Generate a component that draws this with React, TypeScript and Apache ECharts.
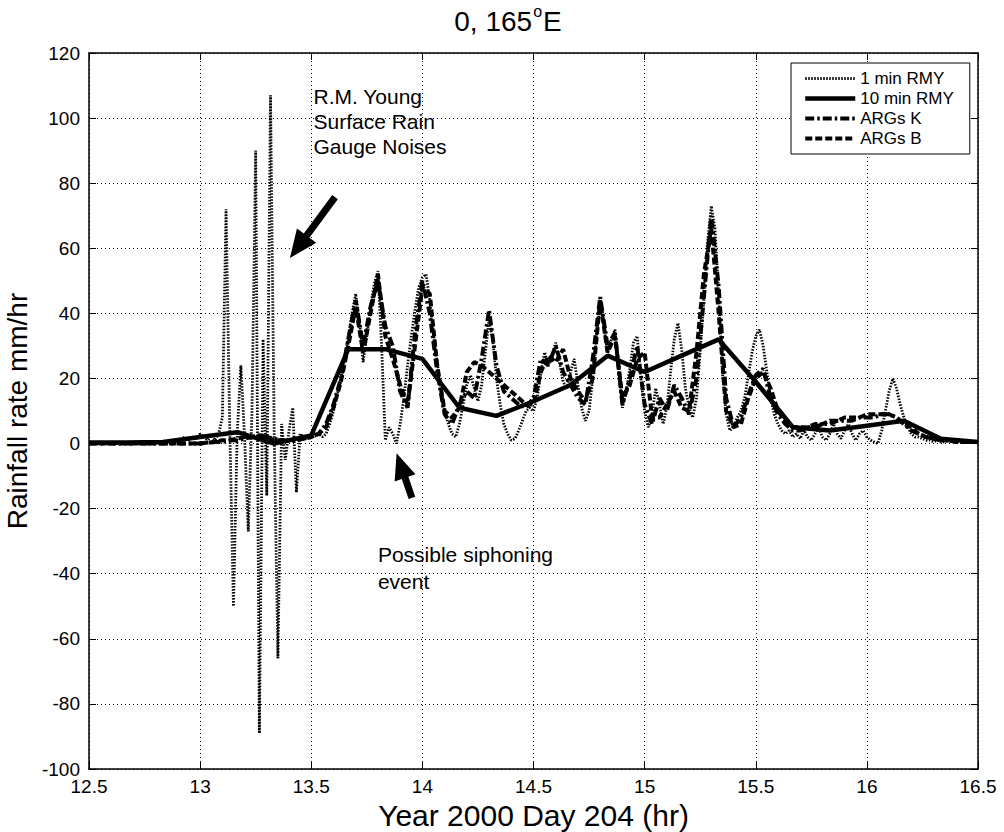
import React, { useEffect, useRef } from "react";
import * as echarts from "echarts";

// 1-minute R.M. Young gauge, one value per minute from 12.5 h
const rmy1Values = [
  0, 0, 0, 0, 0, 0, 0, 0, 0, 0,
  0, 0, 0, 0, 0, 0, 0, 0, 0, 0,
  0, 0.5, 1, 0.5, 1, 1.5, 2, 1, 2, 1.5,
  3, 2, 1, 2.5, 1, 3,
  8, 72, 5, -50, 3, 24, 2, -27, 10, 90, -89, 32, -16, 107, 3, -66, 6, -5, 4, 11, -15, 3, 2, 2, 3,
  3, 3, 2, 3, 6, 10, 15, 20, 26, 33,
  40, 46, 38, 25, 33, 42, 49, 53, 30, 1,
  5, 3, 0, 6, 14, 24, 33, 41, 48, 51,
  52, 44, 34, 25, 17, 10, 6, 3, 2, 6,
  12, 18, 21, 17, 13, 18, 28, 38, 32, 20,
  12, 6, 3, 1, 1.5, 4, 7, 10, 11, 10,
  14, 22, 28, 24, 27, 31, 25, 19, 17, 22,
  26, 18, 11, 7, 10, 20, 33, 43, 36, 28,
  32, 35, 22, 11, 16, 23, 31, 33, 20, 10,
  5, 9, 17, 12, 6, 11, 22, 32, 37, 29,
  17, 11, 8, 14, 28, 45, 62, 73, 66, 45,
  22, 9, 4, 5, 8, 10, 14, 21, 28, 33,
  35, 30, 22, 14, 9, 6, 4, 3, 4, 2,
  3, 1.5, 4, 2, 1, 3, 5, 2, 1, 3,
  6, 3, 1.5, 4, 6, 3, 1, 3, 4, 2,
  1, 0.5, 0, 4, 10, 16, 20, 17, 12, 8,
  5, 3, 2, 2, 1.5, 1, 1, 0.5, 1, 0.5,
  0.5, 1, 0.5, 0.5, 0.3, 0.5, 0.3, 0.3, 0.3, 0.3,
];

// 10-minute R.M. Young, one value per 10 minutes from 12.5 h
const rmy10Values = [
  0.3, 0.3, 0.5, 2, 3.5, 0, 2.5, 29, 29, 26, 11, 8.5, 13,
  18, 27, 22, 27, 32, 19, 5, 4, 5.5, 7, 1.5, 0.5,
];

// ARG gauges, one value per 2 minutes from 12.5 h
const argsKValues = [
  0, 0, 0, 0, 0, 0, 0, 0, 0, 0,
  0, 0, 0, 0, 0, 0, 0.3, 0.5, 0.5, 1,
  1, 1.5, 2, 2.5, 2, 1.5, 1, 0.8, 1, 1.5,
  2, 3, 6, 12, 20, 32, 44, 30, 42, 50,
  36, 30, 16, 11, 34, 50, 40, 22, 9, 6,
  12, 16, 14, 26, 41, 24, 16, 14, 12, 11,
  14, 26, 24, 30, 22, 18, 14, 12, 26, 45,
  30, 34, 12, 20, 30, 12, 6, 14, 10, 18,
  14, 9, 20, 45, 70, 48, 14, 5, 8, 15,
  21, 23, 14, 9, 6, 4,
  4, 5, 5, 6, 6, 7, 7, 7, 8, 8, 8, 9, 9, 8,
  6, 4, 3, 2, 1.5, 1, 1, 0.5, 0.5, 0.5, 0.5,
];

const argsBValues = [
  0, 0, 0, 0, 0, 0, 0, 0, 0, 0,
  0, 0, 0, 0, 0, 0, 0.3, 0.5, 1, 1,
  1.5, 2, 2, 2.5, 2, 1, 1, 1, 1.2, 1.5,
  2, 3, 5, 11, 19, 30, 42, 28, 40, 52,
  33, 26, 18, 12, 30, 48, 46, 24, 10, 8,
  11, 22, 25, 24, 22, 20, 18, 16, 14, 12,
  12, 22, 27, 25, 29, 20, 16, 13, 20, 44,
  28, 33, 14, 18, 26, 28, 8, 8, 12, 16,
  11, 10, 28, 52, 66, 40, 10, 5, 6, 14,
  20, 22, 17, 10, 7, 5, 5, 5, 6, 6,
  7, 7, 8, 8, 8, 9, 9, 9, 9, 8,
  6, 5, 3, 2, 1.5, 1, 1, 0.5, 0.5, 0.5, 0.5,
];

const seriesNames = ["1 min RMY", "10 min RMY", "ARGs K", "ARGs B"];
const startHour = 12.5;
const rmy1Times = rmy1Values.map((_, i) => startHour + i / 60);
const rmy10Times = rmy10Values.map((_, i) => startHour + i / 6);
const argsTimes = argsKValues.map((_, i) => startHour + i / 30);

const titleText = "{a|0, 165}{b|o}{a|E}";
const xName = "Year 2000 Day 204 (hr)";
const yName = "Rainfall rate mm/hr";
const note1 = "R.M. Young\nSurface Rain\nGauge Noises";
const note2 = "Possible siphoning\nevent";

const FONT = "Arial, 'Liberation Sans', Helvetica, sans-serif";

const pair = (times: number[], vals: number[]) => vals.map((v, i) => [times[i], v]);

function arrowPoints(tail: number[], tip: number[], headLen: number, headHalf: number, shaftHalf: number) {
  const dx = tip[0] - tail[0];
  const dy = tip[1] - tail[1];
  const L = Math.hypot(dx, dy);
  const ux = dx / L, uy = dy / L;
  const nx = -uy, ny = ux;
  const bx = tip[0] - ux * headLen, by = tip[1] - uy * headLen;
  return [
    [tail[0] + nx * shaftHalf, tail[1] + ny * shaftHalf],
    [bx + nx * shaftHalf, by + ny * shaftHalf],
    [bx + nx * headHalf, by + ny * headHalf],
    [tip[0], tip[1]],
    [bx - nx * headHalf, by - ny * headHalf],
    [bx - nx * shaftHalf, by - ny * shaftHalf],
    [tail[0] - nx * shaftHalf, tail[1] - ny * shaftHalf],
  ];
}

export default function App() {
  const ref = useRef<HTMLDivElement>(null);
  useEffect(() => {
    const chart = echarts.init(ref.current!, null, { renderer: "svg" });
    const axisCommon = {
      type: "value",
      axisLine: { show: true, onZero: false, lineStyle: { color: "#000", width: 1.5 } },
      axisTick: { show: true, inside: true, length: 7, lineStyle: { color: "#000", width: 1 } },
    };
    const lineWidths = [2.8, 4.5, 4, 4];
    const dashes: any[] = [[1.5, 1.5], "solid", [9, 3, 2.5, 3], [7, 3]];
    chart.setOption({
      animation: false,
      backgroundColor: "#fff",
      textStyle: { fontFamily: FONT },
      title: {
        text: titleText,
        left: 503,
        textAlign: "center",
        top: -2,
        textStyle: {
          fontWeight: "normal",
          rich: {
            a: { fontSize: 28, fontFamily: FONT, fontWeight: "normal", color: "#000", lineHeight: 36 },
            b: { fontSize: 16, fontFamily: FONT, fontWeight: "normal", color: "#000", lineHeight: 36, verticalAlign: "top", padding: [0, 1, 0, 1] },
          },
        },
      },
      grid: { left: 89, right: 26, top: 53, bottom: 63, containLabel: false, outerBoundsMode: "none" },
      legend: {
        data: seriesNames.map((name, i) => ({
          name,
          lineStyle: { width: lineWidths[i], type: dashes[i], color: "#000" },
        })),
        orient: "vertical",
        left: 791,
        top: 63,
        itemWidth: 50,
        itemHeight: 14,
        itemGap: 3,
        padding: [7, 16, 7, 12],
        borderColor: "#000",
        borderWidth: 1,
        backgroundColor: "#fff",
        itemStyle: { opacity: 0 },
        textStyle: { fontSize: 17, color: "#000", fontFamily: FONT },
      },
      xAxis: [
        {
          ...axisCommon,
          position: "bottom",
          min: 12.5,
          max: 16.5,
          interval: 0.5,
          axisLabel: { color: "#000", fontSize: 19, fontFamily: FONT, margin: 8 },
          splitLine: { show: true, lineStyle: { type: [1, 3], color: "#000", width: 1 } },
          name: xName,
          nameLocation: "middle",
          nameGap: 30,
          nameTextStyle: { fontSize: 30, color: "#000", fontFamily: FONT },
        },
        {
          ...axisCommon,
          position: "top",
          min: 12.5,
          max: 16.5,
          interval: 0.5,
          axisLabel: { show: false },
          splitLine: { show: false },
        },
      ],
      yAxis: [
        {
          ...axisCommon,
          position: "left",
          min: -100,
          max: 120,
          interval: 20,
          axisLabel: { color: "#000", fontSize: 19, fontFamily: FONT, margin: 9 },
          splitLine: { show: true, lineStyle: { type: [1, 3], color: "#000", width: 1 } },
          name: yName,
          nameLocation: "middle",
          nameGap: 44,
          nameTextStyle: { fontSize: 28, color: "#000", fontFamily: FONT },
        },
        {
          ...axisCommon,
          position: "right",
          min: -100,
          max: 120,
          interval: 20,
          axisLabel: { show: false },
          splitLine: { show: false },
        },
      ],
      series: [
        {
          name: seriesNames[0],
          type: "line",
          data: pair(rmy1Times, rmy1Values),
          symbol: "none",
          lineStyle: { color: "#000", width: lineWidths[0], type: dashes[0] },
          itemStyle: { color: "#000" },
          z: 2,
        },
        {
          name: seriesNames[2],
          type: "line",
          data: pair(argsTimes, argsKValues),
          symbol: "none",
          lineStyle: { color: "#000", width: lineWidths[2], type: dashes[2] },
          itemStyle: { color: "#000" },
          z: 3,
        },
        {
          name: seriesNames[3],
          type: "line",
          data: pair(argsTimes, argsBValues),
          symbol: "none",
          lineStyle: { color: "#000", width: lineWidths[3], type: dashes[3] },
          itemStyle: { color: "#000" },
          z: 3,
        },
        {
          name: seriesNames[1],
          type: "line",
          data: pair(rmy10Times, rmy10Values),
          symbol: "none",
          lineStyle: { color: "#000", width: lineWidths[1], type: "solid" },
          itemStyle: { color: "#000" },
          z: 4,
        },
      ],
    });

    const P = (t: number, v: number) =>
      chart.convertToPixel({ xAxisIndex: 0, yAxisIndex: 0 }, [t, v]) as number[];
    const a1 = arrowPoints(P(13.607, 75.7), P(13.404, 57.0), 28, 12, 3.5);
    const a2 = arrowPoints(P(13.953, -16.7), P(13.884, -3.0), 26, 11, 3.5);
    const n1 = P(13.51, 110.5);
    const n2 = P(13.8, -30);
    chart.setOption({
      graphic: [
        { type: "polygon", shape: { points: a1 }, style: { fill: "#000" }, z: 10 },
        { type: "polygon", shape: { points: a2 }, style: { fill: "#000" }, z: 10 },
        {
          type: "text",
          x: n1[0],
          y: n1[1],
          z: 10,
          style: { text: note1, fill: "#000", fontSize: 21, fontFamily: FONT, lineHeight: 25, align: "left", verticalAlign: "top" },
        },
        {
          type: "text",
          x: n2[0],
          y: n2[1],
          z: 10,
          style: { text: note2, fill: "#000", fontSize: 21, fontFamily: FONT, lineHeight: 27, align: "left", verticalAlign: "top" },
        },
      ],
    });
    return () => chart.dispose();
  }, []);
  return <div ref={ref} style={{ position: "absolute", left: 0, top: 0, width: 1004, height: 832 }} />;
}
